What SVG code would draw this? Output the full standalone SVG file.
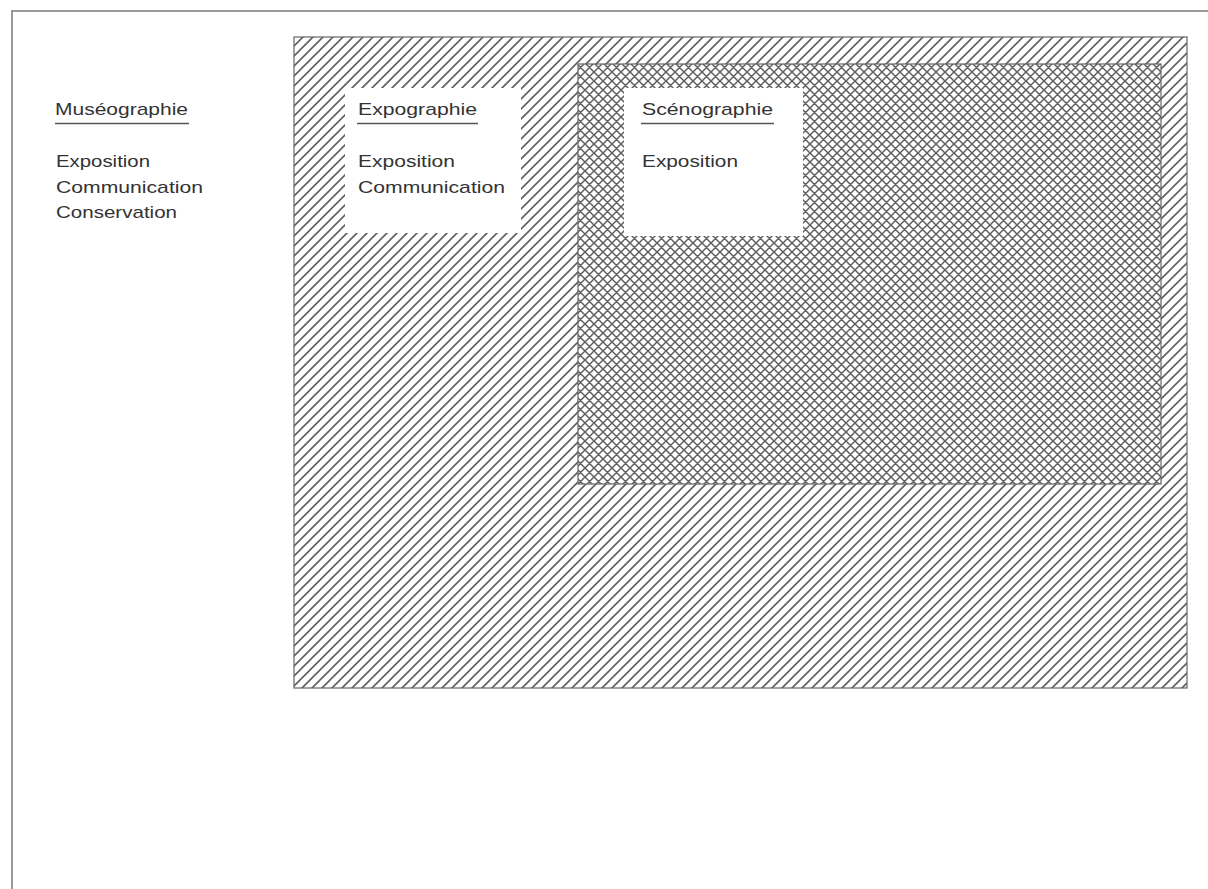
<svg xmlns="http://www.w3.org/2000/svg" width="1208" height="889" viewBox="0 0 1208 889">
  <defs>
    <!-- single upward diagonal hatch -->
    <pattern id="hatch" patternUnits="userSpaceOnUse" width="10" height="10">
      <rect width="10" height="10" fill="#ffffff"/>
      <path d="M-1,11 L11,-1 M-2,2 L2,-2 M8,12 L12,8" stroke="#606060" stroke-width="1.6"/>
    </pattern>
    <!-- diagonal cross hatch -->
    <pattern id="cross" patternUnits="userSpaceOnUse" width="9" height="9">
      <rect width="9" height="9" fill="#ffffff"/>
      <path d="M-1,10 L10,-1 M-1,-1 L10,10 M-2,2 L2,-2 M7,11 L11,7 M7,-2 L11,2 M-2,7 L2,11" stroke="#606060" stroke-width="1.5"/>
    </pattern>
    <style>
      .frame { fill: none; stroke: #9a9a9a; stroke-width: 2; }
      .area { stroke: #666666; stroke-width: 1.2; }
      .label { font-family: "Liberation Sans", Arial, sans-serif; font-size: 17px; fill: #333333; }
      .rule { stroke: #555555; stroke-width: 1.5; }
      .card { fill: #ffffff; }
    </style>
  </defs>

  <rect width="1208" height="889" fill="#ffffff"/>

  <!-- page frame -->
  <path class="frame" d="M12,889 L12,11 L1208,11"/>

  <!-- Muséographie column -->
  <g id="museographie">
    <text class="label" x="55" y="115" textLength="133" lengthAdjust="spacingAndGlyphs">Muséographie</text>
    <line class="rule" x1="55" y1="123.5" x2="189" y2="123.5"/>
    <text class="label" x="56" y="167" textLength="94" lengthAdjust="spacingAndGlyphs">Exposition</text>
    <text class="label" x="56" y="193" textLength="147" lengthAdjust="spacingAndGlyphs">Communication</text>
    <text class="label" x="56" y="218" textLength="121" lengthAdjust="spacingAndGlyphs">Conservation</text>
  </g>

  <!-- Expographie area -->
  <g id="expographie">
    <rect class="area" x="294" y="37" width="893" height="651" fill="url(#hatch)"/>
    <rect class="card" x="345" y="88" width="176" height="145"/>
    <text class="label" x="358" y="115" textLength="119" lengthAdjust="spacingAndGlyphs">Expographie</text>
    <line class="rule" x1="357" y1="123.5" x2="478" y2="123.5"/>
    <text class="label" x="358" y="167" textLength="97" lengthAdjust="spacingAndGlyphs">Exposition</text>
    <text class="label" x="358" y="193" textLength="147" lengthAdjust="spacingAndGlyphs">Communication</text>
  </g>

  <!-- Scénographie area -->
  <g id="scenographie">
    <rect class="area" x="578" y="64" width="583" height="420" fill="url(#cross)"/>
    <rect class="card" x="624" y="88" width="179" height="148"/>
    <text class="label" x="642" y="115" textLength="131" lengthAdjust="spacingAndGlyphs">Scénographie</text>
    <line class="rule" x1="641" y1="123.5" x2="774" y2="123.5"/>
    <text class="label" x="642" y="167" textLength="96" lengthAdjust="spacingAndGlyphs">Exposition</text>
  </g>

  <g id="connectors"></g>
</svg>
